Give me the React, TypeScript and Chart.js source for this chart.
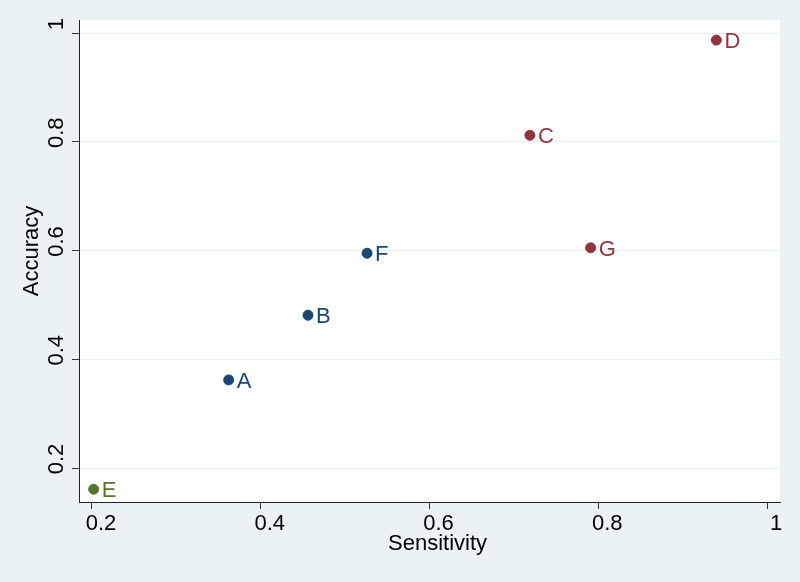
import React, { useEffect, useRef } from "react";
import { Chart, registerables } from "chart.js";

Chart.register(...registerables);

const blueLabels = ["A", "B", "F"];
const blueX = [0.362, 0.456, 0.526];
const blueY = [0.362, 0.481, 0.595];

const redLabels = ["C", "D", "G"];
const redX = [0.719, 0.940, 0.791];
const redY = [0.812, 0.987, 0.605];

const greenLabels = ["E"];
const greenX = [0.202];
const greenY = [0.161];

const xTicks = [0.2, 0.4, 0.6, 0.8, 1];
const yTicks = [0.2, 0.4, 0.6, 0.8, 1];

const xTitle = "Sensitivity";
const yTitle = "Accuracy";

const BLUE = "#1a476f";
const RED = "#90353b";
const GREEN = "#55752f";
const BG = "#eaf2f3";
const FONT = "'Liberation Sans', Arial, sans-serif";

const toPoints = (xs: number[], ys: number[]) => xs.map((x, i) => ({ x, y: ys[i] }));

const fmt = (v: number) => (Math.abs(v - 1) < 1e-9 ? "1" : String(Math.round(v * 10) / 10));

const bgPlugin = {
  id: "bgPlugin",
  beforeDraw(chart: any) {
    const { ctx, chartArea } = chart;
    ctx.save();
    ctx.fillStyle = BG;
    ctx.fillRect(0, 0, chart.width, chart.height);
    ctx.fillStyle = "#ffffff";
    ctx.fillRect(chartArea.left, chartArea.top, chartArea.right - chartArea.left, chartArea.bottom - chartArea.top);
    ctx.restore();
  },
};

const textPlugin = {
  id: "textPlugin",
  afterDraw(chart: any) {
    const { ctx, chartArea } = chart;
    const ys = chart.scales.y;
    ctx.save();
    // y tick labels (rotated)
    ctx.fillStyle = "#000";
    ctx.font = `22px ${FONT}`;
    ctx.textAlign = "center";
    ctx.textBaseline = "alphabetic";
    ys.ticks.forEach((t: any) => {
      const py = ys.getPixelForValue(t.value);
      ctx.save();
      ctx.translate(63, py - 9);
      ctx.rotate(-Math.PI / 2);
      ctx.fillText(fmt(t.value), 0, 0);
      ctx.restore();
    });
    // axis titles
    ctx.save();
    ctx.translate(38, (chartArea.top + chartArea.bottom) / 2 - 10);
    ctx.rotate(-Math.PI / 2);
    ctx.fillText(yTitle, 0, 0);
    ctx.restore();
    ctx.fillText(xTitle, (chartArea.left + chartArea.right) / 2 + 8, 550);
    // point labels
    ctx.textAlign = "left";
    chart.data.datasets.forEach((ds: any, di: number) => {
      const meta = chart.getDatasetMeta(di);
      ctx.fillStyle = ds.borderColor;
      meta.data.forEach((pt: any, i: number) => {
        ctx.fillText(ds.pointLabels[i], pt.x + 8, pt.y + 8);
      });
    });
    ctx.restore();
  },
};

export default function App() {
  const ref = useRef<HTMLCanvasElement>(null);
  useEffect(() => {
    document.body.style.margin = "0";
    const ctx = ref.current!.getContext("2d")!;
    const chart = new Chart(ctx, {
      type: "scatter",
      data: {
        datasets: [
          { data: toPoints(blueX, blueY), backgroundColor: BLUE, borderColor: BLUE, pointRadius: 5, pointLabels: blueLabels } as any,
          { data: toPoints(redX, redY), backgroundColor: RED, borderColor: RED, pointRadius: 5, pointLabels: redLabels } as any,
          { data: toPoints(greenX, greenY), backgroundColor: GREEN, borderColor: GREEN, pointRadius: 5, pointLabels: greenLabels } as any,
        ],
      },
      options: {
        animation: false,
        responsive: false,
        devicePixelRatio: 1,
        layout: { padding: { top: 20, right: 20, left: 0, bottom: 0 } },
        plugins: { legend: { display: false }, tooltip: { enabled: false } },
        scales: {
          x: {
            type: "linear",
            min: 0.1846,
            max: 1.0154,
            afterBuildTicks: (s: any) => { s.ticks = xTicks.map((v) => ({ value: v })); },
            afterFit: (s: any) => { s.height = 80; },
            grid: { drawOnChartArea: false, drawTicks: true, tickLength: 7, tickColor: "#333", color: "#333" },
            border: { display: true, color: "#222", width: 1 },
            ticks: {
              color: "#000",
              font: { family: FONT, size: 22 },
              padding: 2,
              labelOffset: 9,
              maxRotation: 0,
              minRotation: 0,
              callback: (v: any) => fmt(Number(v)),
            },
          },
          y: {
            type: "linear",
            min: 0.1375,
            max: 1.024,
            afterBuildTicks: (s: any) => { s.ticks = yTicks.map((v) => ({ value: v })); },
            afterFit: (s: any) => { s.width = 79; },
            grid: { drawOnChartArea: true, drawTicks: true, tickLength: 7, tickColor: "#333", color: "#e6eef1", lineWidth: 1 },
            border: { display: true, color: "#222", width: 1 },
            ticks: { display: false },
          },
        },
      },
      plugins: [bgPlugin, textPlugin],
    });
    return () => chart.destroy();
  }, []);
  return (
    <div style={{ width: 800, height: 582 }}>
      <canvas ref={ref} width={800} height={582} style={{ display: "block" }} />
    </div>
  );
}
